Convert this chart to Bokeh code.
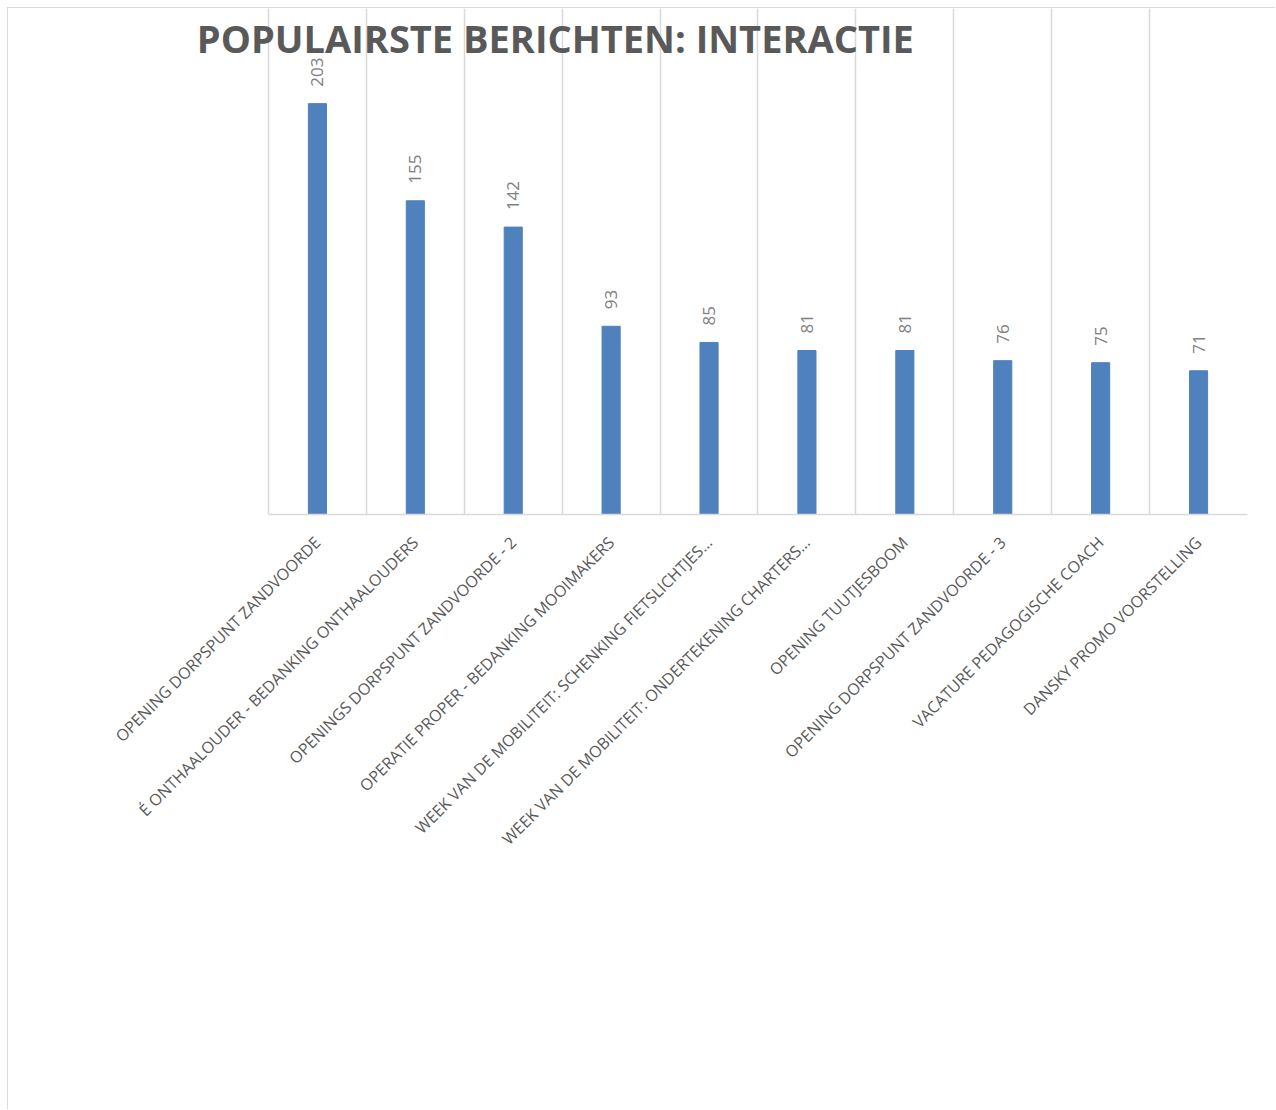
import math
from bokeh.plotting import figure
from bokeh.models import ColumnDataSource, LabelSet, Label, Range1d, FixedTicker
from bokeh.core.properties import value
from bokeh.embed import file_html
from bokeh.resources import INLINE

categories = [
    "OPENING DORPSPUNT ZANDVOORDE",
    "É ONTHAALOUDER - BEDANKING ONTHAALOUDERS",
    "OPENINGS DORPSPUNT ZANDVOORDE - 2",
    "OPERATIE PROPER - BEDANKING MOOIMAKERS",
    "WEEK VAN DE MOBILITEIT: SCHENKING FIETSLICHTJES…",
    "WEEK VAN DE MOBILITEIT: ONDERTEKENING CHARTERS…",
    "OPENING TUUTJESBOOM",
    "OPENING DORPSPUNT ZANDVOORDE - 3",
    "VACATURE PEDAGOGISCHE COACH",
    "DANSKY PROMO VOORSTELLING",
]
values = [203, 155, 142, 93, 85, 81, 81, 76, 75, 71]
title_text = "POPULAIRSTE BERICHTEN: INTERACTIE"

n = len(categories)
xs = [i + 0.5 for i in range(n)]
src = ColumnDataSource(dict(x=xs, top=values, label=[str(v) for v in values]))

# frame extends (invisibly) to the left of the first category so the title is not clipped
left_pad = 1.205

p = figure(
    width=1268, height=1102,
    x_range=Range1d(-left_pad, n), y_range=Range1d(0, 250),
    output_backend="svg", toolbar_location=None,
    min_border_left=142, min_border_right=29, min_border_top=0, min_border_bottom=596,
)
p.margin = (8, 0, 0, 8)
p.styles = {"box-shadow": "-1px -1px 0 0 #d9d9d9"}
p.outline_line_color = None
p.background_fill_color = "white"
p.border_fill_color = "white"

p.vbar(x="x", top="top", width=0.185, color="#4F81BD", source=src)

labels = LabelSet(x="x", y="top", text="label", source=src, angle=math.pi / 2,
                  text_align="left", text_baseline="middle", y_offset=17,
                  text_font=value("Open Sans"), text_font_size=value("17px"),
                  text_color="#808080")
p.add_layout(labels)

p.yaxis.visible = False
p.ygrid.visible = False
p.xgrid.ticker = FixedTicker(ticks=list(range(n + 1)))
p.xgrid.grid_line_color = "#d9d9d9"
p.xgrid.grid_line_width = 1.5

p.xaxis.bounds = (0, n)
p.xaxis.ticker = FixedTicker(ticks=xs)
p.xaxis.major_label_overrides = {x: c for x, c in zip(xs, categories)}
p.xaxis.major_label_orientation = math.pi / 4
p.xaxis.major_label_text_font = "Open Sans"
p.xaxis.major_label_text_font_size = "16px"
p.xaxis.major_label_text_color = "#595959"
p.xaxis.major_label_standoff = 19
p.xaxis.major_tick_line_color = None
p.xaxis.minor_tick_line_color = None
p.xaxis.axis_line_color = "#d9d9d9"
p.xaxis.axis_line_width = 1.5

title = Label(x=2.93, y=235.5, text=title_text, text_align="center",
              text_baseline="alphabetic", text_font="Open Sans",
              text_font_style="bold", text_font_size="38px", text_color="#595959")
p.add_layout(title)

open("out.html", "w").write(file_html(p, INLINE))
